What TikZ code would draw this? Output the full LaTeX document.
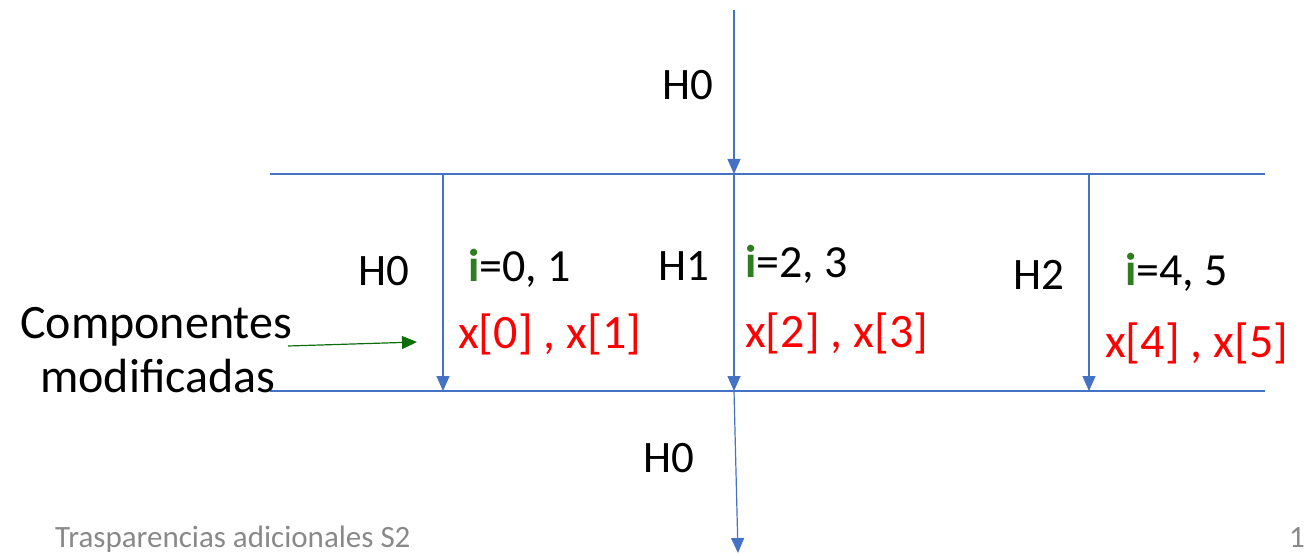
\documentclass[tikz,border=0pt]{standalone}
\usepackage{fontspec}
\setmainfont{Carlito}
\usetikzlibrary{arrows.meta}
\definecolor{lblue}{HTML}{4472C4}
\definecolor{dgreen}{HTML}{0B6E0B}
\definecolor{igreen}{HTML}{2E7D1E}
\definecolor{fgray}{HTML}{898989}
\tikzset{
  wire/.style={draw=lblue, line width=1.2pt},
  flow/.style={wire, -{Triangle[width=13pt,length=15pt]}},
  hlab/.style={anchor=base west, inner sep=0pt, font=\fontsize{45}{50}\selectfont},
  ilab/.style={anchor=base west, inner sep=0pt, font=\fontsize{46}{50}\selectfont},
  xlab/.style={anchor=base west, inner sep=0pt, text=red, font=\fontsize{48}{52}\selectfont},
  clab/.style={anchor=base west, inner sep=0pt, font=\fontsize{48}{52}\selectfont},
  foot/.style={anchor=base west, inner sep=0pt, text=fgray, font=\fontsize{31}{34}\selectfont},
}
\begin{document}
\begin{tikzpicture}[x=1pt,y=-1pt]
\useasboundingbox (0,0) rectangle (1307,556);
% coordinates
\coordinate (top) at (734,10);
\coordinate (tc) at (734,174);
\coordinate (bc) at (734,391);
\coordinate (end) at (738,553);
\coordinate (tl) at (270,174);
\coordinate (tr) at (1265,174);
\coordinate (bl) at (270,391);
\coordinate (br) at (1265,391);
\coordinate (a1t) at (443,174);
\coordinate (a1b) at (443,391);
\coordinate (a3t) at (1089,174);
\coordinate (a3b) at (1089,391);
\coordinate (gs) at (288,346);
\coordinate (ge) at (417,342);
% lines
\draw[wire] (tl) -- (tr);
\draw[wire] (bl) -- (br);
\draw[flow] (top) -- (tc);
\draw[flow] (tc) -- (bc);
\draw[flow] (bc) -- (end);
\draw[flow] (a1t) -- (a1b);
\draw[flow] (a3t) -- (a3b);
\draw[draw=dgreen, line width=1.2pt, -{Triangle[width=13pt,length=15pt]}] (gs) -- (ge);
% labels
\node[hlab] (h0top) at (662,100) {H0};
\node[hlab] (h0l) at (358,285) {H0};
\node[hlab] (h1) at (658,280) {H1};
\node[hlab] (h2) at (1013,290) {H2};
\node[hlab] (h0b) at (643,472) {H0};
\node[ilab] (i1) at (468,282) {\textcolor{igreen}{\bfseries i}=0, 1};
\node[ilab] (i2) at (745,278) {\textcolor{igreen}{\bfseries i}=2, 3};
\node[ilab] (i3) at (1125,285) {\textcolor{igreen}{\bfseries i}=4, 5};
\node[xlab] (x1) at (458,348) {x[0] , x[1]};
\node[xlab] (x2) at (745,347) {x[2] , x[3]};
\node[xlab] (x3) at (1105,357) {x[4] , x[5]};
\node[clab] (c1) at (20,338) {Componentes};
\node[clab] (c2) at (40,392) {modificadas};
\node[foot] (ft) at (55,547) {Trasparencias adicionales S2};
\node[foot] (pg) at (1289,547) {1};
\end{tikzpicture}
\end{document}
